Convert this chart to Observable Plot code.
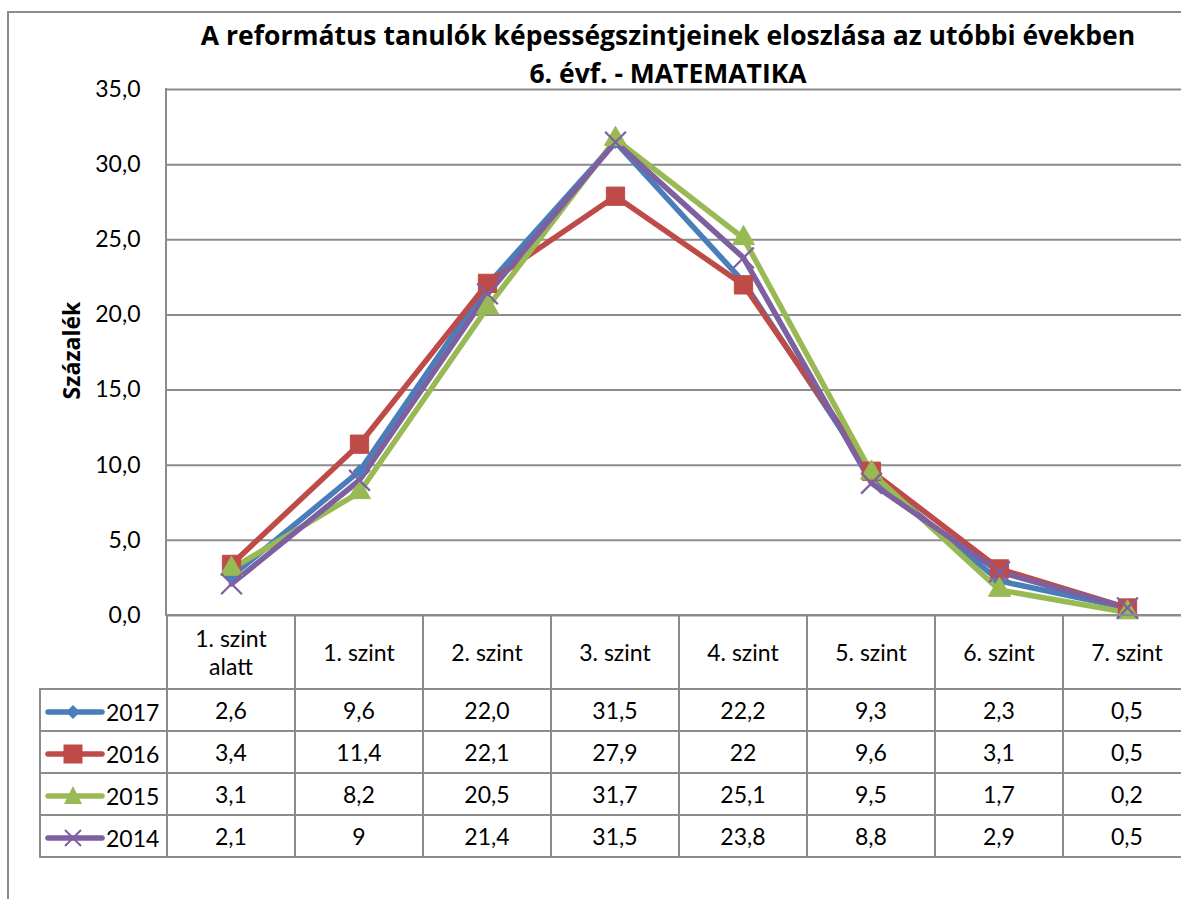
<!DOCTYPE html>
<html>
<head>
<meta charset="utf-8">
<script src="https://cdn.jsdelivr.net/npm/d3@7"></script>
<script src="https://cdn.jsdelivr.net/npm/@observablehq/plot@0.6"></script>
<style>
  html, body { margin: 0; padding: 0; background: #fff; overflow: hidden; }
  #wrap { position: relative; width: 1192px; height: 899px; font-family: Lato, "Open Sans", sans-serif; color: #000; }
  #outer { position: absolute; left: 7px; top: 11px; width: 1300px; height: 1000px; border-left: 2px solid #8c8c8c; border-top: 2px solid #8c8c8c; box-sizing: border-box; }
  #title { position: absolute; left: 166px; width: 1004px; top: 16px; text-align: center; font-family: "Open Sans", Lato, sans-serif; font-weight: bold; font-size: 26.5px; line-height: 38px; }
  #plot { position: absolute; left: 0; top: 0; }
  #leftline { position: absolute; left: 165px; top: 88px; width: 2px; height: 528px; background: #8c8c8c; }
  #tbl { position: absolute; left: 39px; top: 614px; border-collapse: collapse; table-layout: fixed; font-size: 23px; }
  #tbl td { border: 2px solid #8c8c8c; text-align: center; padding: 0; }
  #tbl td.blank { border: none; border-right: 2px solid #8c8c8c; }
  #tbl tr.head td { height: 72px; line-height: 28px; }
  #tbl tr.row td { height: 40px; line-height: 26px; }
  #tbl td.leg { text-align: left; white-space: nowrap; }
  #tbl td.leg svg { vertical-align: middle; }
  #tbl td.leg span { vertical-align: middle; margin-left: 1px; }
</style>
</head>
<body>
<div id="wrap">
  <div id="outer"></div>
  <div id="title">A református tanulók képességszintjeinek eloszlása az utóbbi években<br>6. évf. - MATEMATIKA</div>
  <div id="plot"></div>
  <div id="leftline"></div>
  <table id="tbl"></table>
</div>
<script>
// ---- data ----
const categories = ["1. szint alatt", "1. szint", "2. szint", "3. szint", "4. szint", "5. szint", "6. szint", "7. szint"];
const headerLabels = ["1. szint<br>alatt", "1. szint", "2. szint", "3. szint", "4. szint", "5. szint", "6. szint", "7. szint"];
const seriesNames = ["2017", "2016", "2015", "2014"];
const t2017 = ["2,6", "9,6", "22,0", "31,5", "22,2", "9,3", "2,3", "0,5"];
const t2016 = ["3,4", "11,4", "22,1", "27,9", "22", "9,6", "3,1", "0,5"];
const t2015 = ["3,1", "8,2", "20,5", "31,7", "25,1", "9,5", "1,7", "0,2"];
const t2014 = ["2,1", "9", "21,4", "31,5", "23,8", "8,8", "2,9", "0,5"];
const yTicks = [0, 5, 10, 15, 20, 25, 30, 35];
const colors = ["#4A7EBB", "#BE4B48", "#98B954", "#7D60A0"];
const symbols = ["diamond2", "square", "triangle", "times"];
const radii = [5.8, 10.3, 8.2, 9.5];

const texts = [t2017, t2016, t2015, t2014];
const parse = s => +s.replace(",", ".");
const rows = [];
seriesNames.forEach((s, i) => texts[i].forEach((t, j) => rows.push({series: s, cat: categories[j], value: parse(t)})));

const fmt = d => d.toFixed(1).replace(".", ",");

const marks = [
  Plot.ruleY(yTicks, {stroke: "#8c8c8c", strokeWidth: 2})
];
seriesNames.forEach((s, i) => {
  marks.push(Plot.line(rows.filter(r => r.series === s), {
    x: "cat", y: "value", stroke: colors[i], strokeWidth: 5.5, strokeLinejoin: "round", strokeLinecap: "round"
  }));
});
seriesNames.forEach((s, i) => {
  const isStroke = symbols[i] === "times";
  marks.push(Plot.dot(rows.filter(r => r.series === s), {
    x: "cat", y: "value", symbol: () => symbols[i], r: radii[i],
    fill: isStroke ? "none" : colors[i],
    stroke: colors[i], strokeWidth: isStroke ? 2.2 : 1
  }));
});
marks.push(Plot.axisY({
  ticks: yTicks, tickFormat: fmt, tickSize: 0, tickPadding: 26, label: null,
  fontSize: 23
}));
marks.push(Plot.text(["Százalék"], {
  frameAnchor: "left", textAnchor: "middle", rotate: -90, dx: -94, dy: -2,
  fontWeight: "bold", fontSize: 23, fontFamily: "'Open Sans', Lato, sans-serif"
}));

const chart = Plot.plot({
  width: 1192,
  height: 617,
  marginLeft: 166,
  marginRight: 0,
  marginTop: 89,
  marginBottom: 2,
  style: {fontFamily: "Lato, 'Open Sans', sans-serif", color: "#000", background: "transparent", overflow: "visible"},
  x: {type: "point", domain: categories, padding: 0.5, axis: null},
  y: {domain: [0, 35], axis: null},
  symbol: {type: "identity"},
  marks
});
document.getElementById("plot").appendChild(chart);

// ---- data table with legend keys ----
function legendKey(i) {
  const c = colors[i];
  let m = "";
  if (symbols[i] === "diamond2") m = `<path d="M28,4 L35,11 L28,18 L21,11Z" fill="${c}"/>`;
  else if (symbols[i] === "square") m = `<rect x="18.5" y="1.5" width="19" height="19" fill="${c}"/>`;
  else if (symbols[i] === "triangle") m = `<path d="M28,1 L37,19 L19,19Z" fill="${c}"/>`;
  else m = `<path d="M20,3 L36,19 M36,3 L20,19" stroke="${c}" stroke-width="2"/>`;
  return `<svg width="60" height="22" style="margin-left:4px"><line x1="3" y1="11" x2="57" y2="11" stroke="${c}" stroke-width="5.5" stroke-linecap="round"/>${m}</svg>`;
}
const tbl = document.getElementById("tbl");
let html = `<colgroup><col style="width:127px">` + categories.map(() => `<col style="width:128.25px">`).join("") + `</colgroup>`;
html += `<tr class="head"><td class="blank"></td>` + headerLabels.map(h => `<td>${h}</td>`).join("") + `</tr>`;
seriesNames.forEach((s, i) => {
  html += `<tr class="row"><td class="leg">${legendKey(i)}<span>${s}</span></td>` + texts[i].map(t => `<td>${t}</td>`).join("") + `</tr>`;
});
tbl.innerHTML = html;
</script>
</body>
</html>
